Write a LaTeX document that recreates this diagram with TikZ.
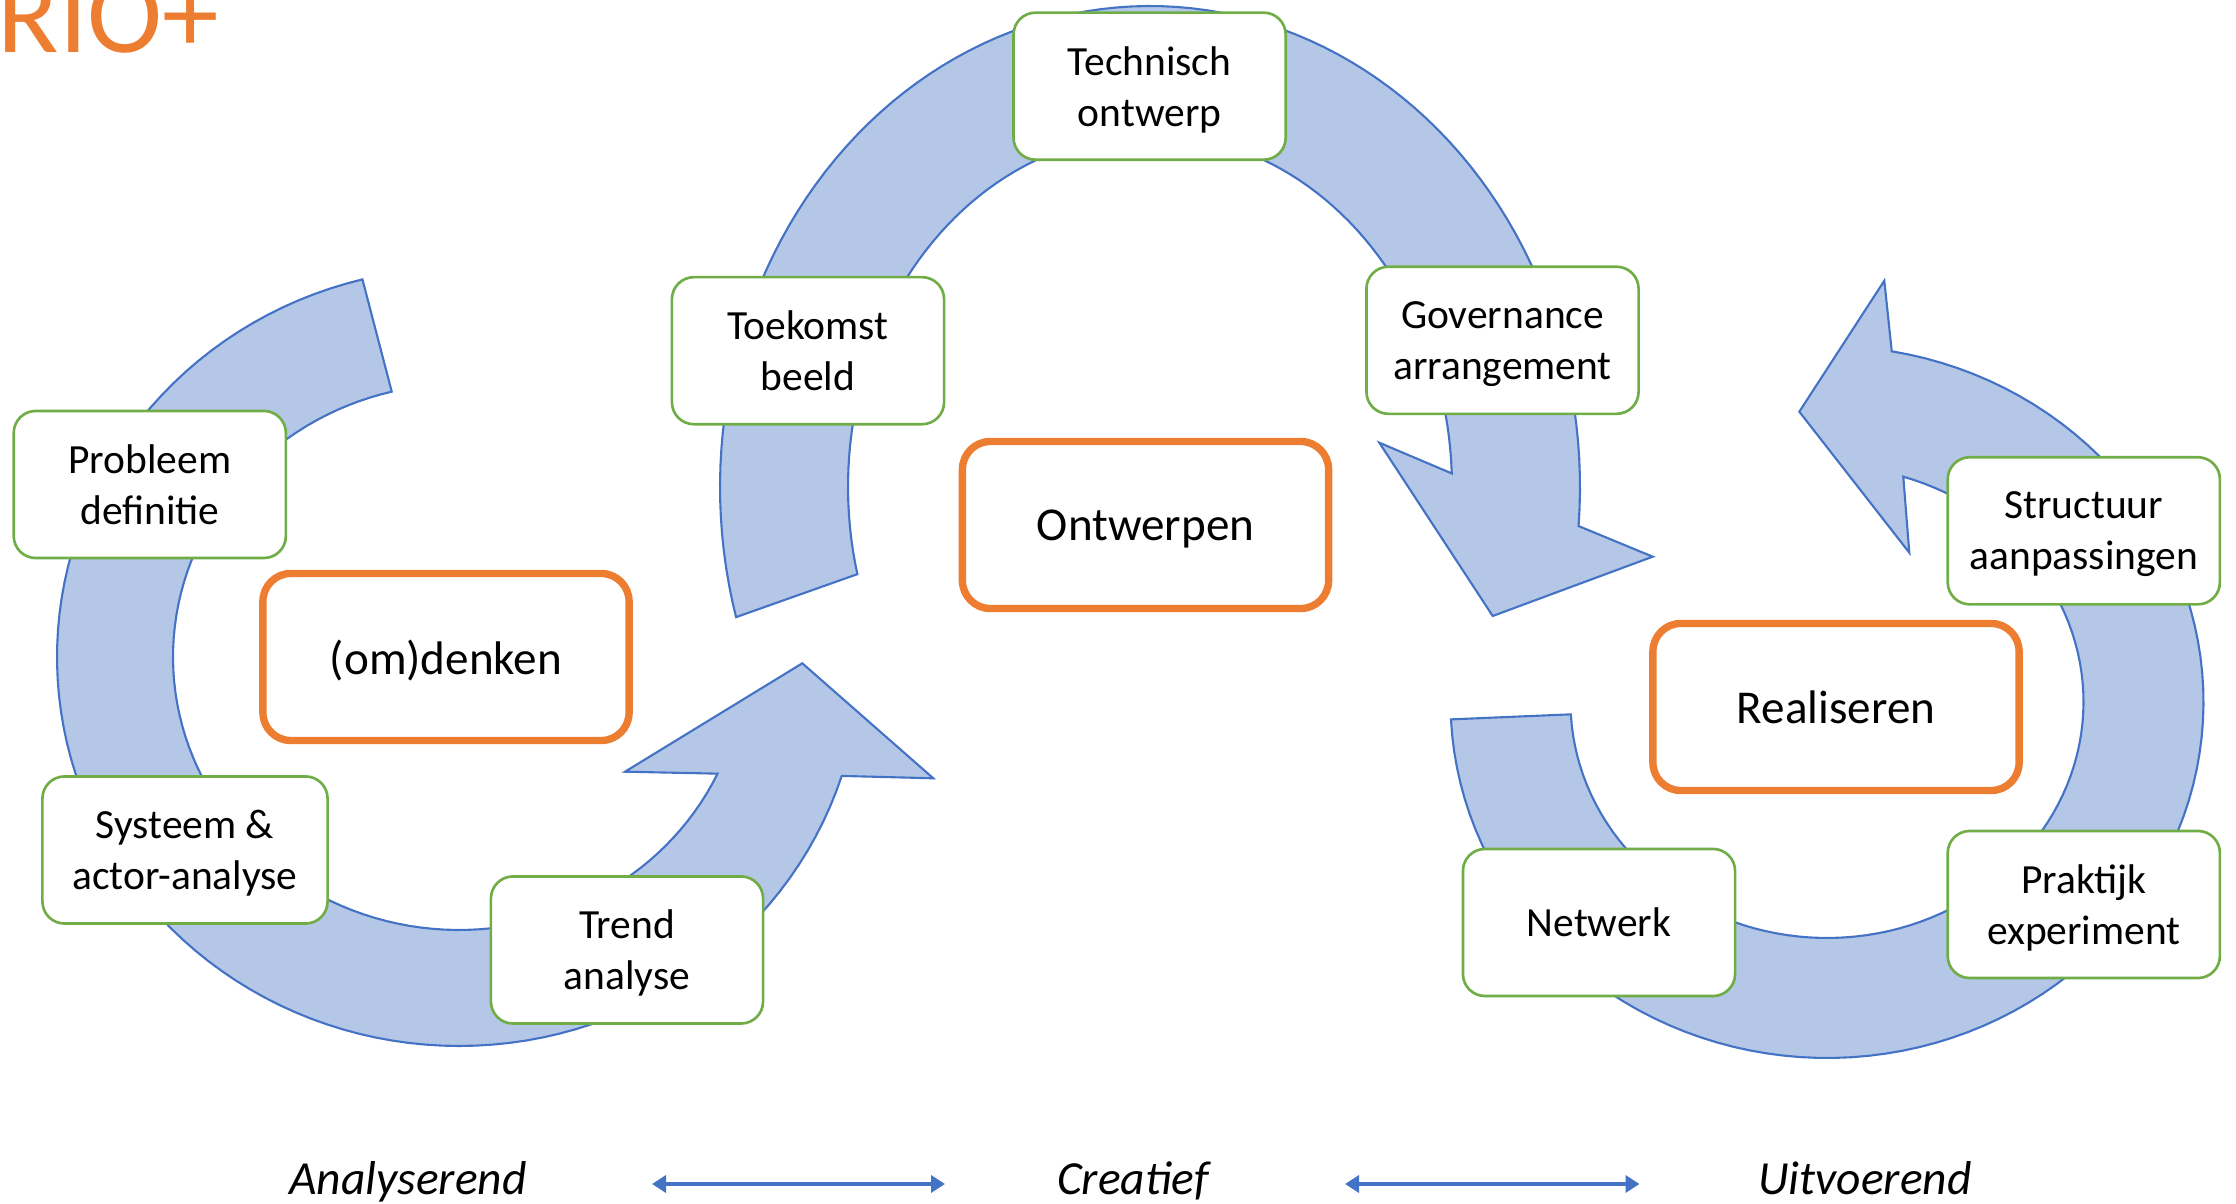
\documentclass[tikz,border=0pt]{standalone}
\usepackage{fontspec}
\setmainfont{Carlito}
\usetikzlibrary{arrows.meta}
\definecolor{arrowfill}{HTML}{B4C7E7}
\definecolor{arrowline}{HTML}{4472C4}
\definecolor{boxgreen}{HTML}{70AD47}
\definecolor{boxorange}{HTML}{ED7D31}
\begin{document}
\begin{tikzpicture}[x=0.01cm, y=-0.01cm,
  cyc/.style={fill=arrowfill, draw=arrowline, line width=0.6pt, line join=miter},
  stepbox/.style={draw=boxgreen, fill=white, line width=0.75pt, rounded corners=0.22cm,
    minimum width=2.72cm, minimum height=1.47cm, inner sep=0pt, align=center,
    text depth=0pt, font=\fontsize{11.8pt}{14.5pt}\selectfont},
  phasebox/.style={draw=boxorange, fill=white, line width=2.1pt, rounded corners=0.28cm,
    minimum width=3.66cm, minimum height=1.67cm, inner sep=0pt, text depth=0pt,
    font=\fontsize{13.4pt}{16pt}\selectfont},
  modelabel/.style={anchor=base, inner sep=0pt, font=\fontsize{13.5pt}{16pt}\selectfont\itshape},
  dbl/.style={draw=arrowline, line width=1.3pt,
    {Triangle[length=0.14cm,width=0.17cm]}-{Triangle[length=0.14cm,width=0.17cm]}}
]
\useasboundingbox (0,0) rectangle (2236,1204);

% title
\node[anchor=base west, text=boxorange, inner sep=0pt,
  font=\fontsize{32.2pt}{38pt}\selectfont] (title) at (-3,53) {RIO+};

% circular arrows
\path[cyc] plot[domain=256.1:17.8, samples=100] ({459+402*cos(\x)},{657+389*sin(\x)})
  -- (933.3,778.3) -- (802.3,663.3) -- (625,771.7)
  -- plot[domain=25.3:256.4, samples=100] ({459+286*cos(\x)},{657+273*sin(\x)}) -- cycle;

\path[cyc] plot[domain=164.3:364.66, samples=100] ({1150+430*cos(\x)},{487+481*sin(\x)})
  -- (1652.7,556.7) -- (1492.7,616) -- (1379.3,442.7)
  -- plot[domain=357.8:165.7, samples=100] ({1150+302*cos(\x)},{487+353*sin(\x)}) -- cycle;

\path[cyc] plot[domain=177.2:-80.1, samples=100] ({1827+376.5*cos(\x)},{702+356*sin(\x)})
  -- (1884.3,280.7) -- (1799.3,411.7) -- (1909.3,552.7)
  -- plot[domain=-72.7:177, samples=100] ({1827+256.5*cos(\x)},{702+236*sin(\x)}) -- cycle;

% step boxes
\node[stepbox] (techn) at (1149.6,86.2) {Technisch\\ontwerp};
\node[stepbox] (toek) at (808,350.7) {Toekomst\\beeld};
\node[stepbox] (gov) at (1502.5,340.3) {Governance\\arrangement};
\node[stepbox] (prob) at (149.8,484.5) {Probleem\\definitie};
\node[stepbox, minimum width=2.85cm] (sys) at (185,850) {Systeem \&\\actor-analyse};
\node[stepbox] (trend) at (627,950) {Trend\\analyse};
\node[stepbox] (netw) at (1599,922.5) {Netwerk};
\node[stepbox] (struct) at (2083.8,530.8) {Structuur\\aanpassingen};
\node[stepbox] (prak) at (2083.8,904.5) {Praktijk\\experiment};

% phase boxes
\node[phasebox] (omd) at (446,657) {(om)denken};
\node[phasebox] (ontw) at (1145.5,525) {Ontwerpen};
\node[phasebox] (real) at (1836,707) {Realiseren};

% bottom scale
\node[modelabel] (ana) at (408,1195) {Analyserend};
\node[modelabel] (cre) at (1133,1195) {Creatief};
\node[modelabel] (uit) at (1865,1195) {Uitvoerend};
\coordinate (a1) at (652,1184);
\coordinate (a2) at (945,1184);
\coordinate (b1) at (1345,1184);
\coordinate (b2) at (1639.5,1184);
\draw[dbl] (a1) -- (a2);
\draw[dbl] (b1) -- (b2);
\end{tikzpicture}
\end{document}
